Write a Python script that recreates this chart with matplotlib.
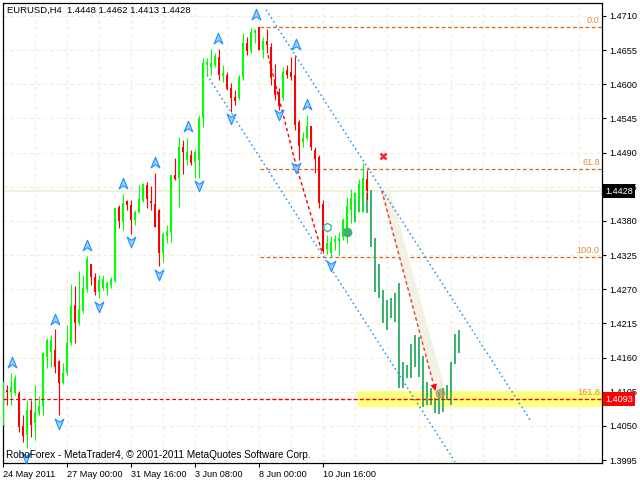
import numpy as np
import matplotlib.pyplot as plt
from matplotlib.path import Path

plt.rcParams['font.family'] = ['Liberation Sans', 'DejaVu Sans']

# EURUSD H4 bars from 24 May 2011 08:00
opens = [1.4068, 1.4108, 1.4105, 1.4103, 1.4103, 1.4050, 1.4035, 1.4076, 1.4055, 1.4071,
         1.4082, 1.4161, 1.4169, 1.4172, 1.4155, 1.4119, 1.4135, 1.4184, 1.4245, 1.4216,
         1.4235, 1.4270, 1.4311, 1.4290, 1.4266, 1.4272, 1.4272, 1.4277, 1.4283, 1.4402,
         1.4378, 1.4412, 1.4406, 1.4382, 1.4394, 1.4412, 1.4438, 1.4412, 1.4407, 1.4398,
         1.4328, 1.4356, 1.4362, 1.4454, 1.4449, 1.4499, 1.4478, 1.4486, 1.4475, 1.4478,
         1.4546, 1.4631, 1.4628, 1.4631, 1.4644, 1.4613, 1.4615, 1.4594, 1.4580, 1.4578,
         1.4612, 1.4667, 1.4654, 1.4683, 1.4692, 1.4655, 1.4670, 1.4660, 1.4607, 1.4588,
         1.4578, 1.4623, 1.4620, 1.4615, 1.4539, 1.4507, 1.4514, 1.4533, 1.4494, 1.4483,
         1.4407, 1.4335, 1.4328, 1.4346, 1.4348, 1.4354, 1.4357, 1.4398, 1.4411, 1.4414,
         1.4430, 1.4448]
highs = [1.4122, 1.4116, 1.4135, 1.4132, 1.4106, 1.4068, 1.4092, 1.4092, 1.4116, 1.4098,
         1.4169, 1.4192, 1.4196, 1.4206, 1.4156, 1.4151, 1.4213, 1.4279, 1.4275, 1.4299,
         1.4293, 1.4324, 1.4311, 1.4296, 1.4293, 1.4293, 1.4283, 1.4290, 1.4402, 1.4406,
         1.4423, 1.4414, 1.4414, 1.4398, 1.4438, 1.4441, 1.4443, 1.4436, 1.4457, 1.4399,
         1.4362, 1.4374, 1.4454, 1.4481, 1.4515, 1.4510, 1.4514, 1.4494, 1.4494, 1.4551,
         1.4642, 1.4642, 1.4657, 1.4650, 1.4657, 1.4631, 1.4620, 1.4602, 1.4591, 1.4615,
         1.4683, 1.4676, 1.4690, 1.4689, 1.4692, 1.4676, 1.4689, 1.4667, 1.4633, 1.4594,
         1.4628, 1.4631, 1.4644, 1.4647, 1.4543, 1.4523, 1.4551, 1.4533, 1.4499, 1.4486,
         1.4414, 1.4357, 1.4356, 1.4357, 1.4362, 1.4385, 1.4419, 1.4431, 1.4427, 1.4448,
         1.4473, 1.4462]
lows = [1.4052, 1.4084, 1.4084, 1.4100, 1.4040, 1.4024, 1.4014, 1.4032, 1.4027, 1.4068,
        1.4068, 1.4143, 1.4145, 1.4135, 1.4068, 1.4118, 1.4132, 1.4180, 1.4184, 1.4213,
        1.4232, 1.4266, 1.4277, 1.4261, 1.4256, 1.4269, 1.4261, 1.4272, 1.4282, 1.4369,
        1.4365, 1.4398, 1.4359, 1.4374, 1.4393, 1.4411, 1.4401, 1.4398, 1.4370, 1.4308,
        1.4314, 1.4345, 1.4346, 1.4446, 1.4402, 1.4455, 1.4470, 1.4470, 1.4449, 1.4449,
        1.4531, 1.4615, 1.4615, 1.4628, 1.4607, 1.4604, 1.4591, 1.4555, 1.4567, 1.4575,
        1.4607, 1.4647, 1.4650, 1.4667, 1.4655, 1.4642, 1.4650, 1.4599, 1.4575, 1.4559,
        1.4575, 1.4610, 1.4607, 1.4526, 1.4478, 1.4499, 1.4510, 1.4494, 1.4457, 1.4401,
        1.4328, 1.4327, 1.4322, 1.4333, 1.4325, 1.4349, 1.4345, 1.4377, 1.4378, 1.4394,
        1.4394, 1.4413]
closes = [1.4119, 1.4105, 1.4113, 1.4127, 1.4048, 1.4034, 1.4076, 1.4052, 1.4072, 1.4082,
          1.4167, 1.4188, 1.4188, 1.4145, 1.4119, 1.4135, 1.4184, 1.4243, 1.4216, 1.4238,
          1.4272, 1.4319, 1.4290, 1.4266, 1.4285, 1.4287, 1.4280, 1.4287, 1.4401, 1.4380,
          1.4409, 1.4406, 1.4382, 1.4394, 1.4415, 1.4440, 1.4415, 1.4409, 1.4370, 1.4328,
          1.4359, 1.4364, 1.4454, 1.4448, 1.4499, 1.4491, 1.4491, 1.4473, 1.4491, 1.4546,
          1.4634, 1.4636, 1.4634, 1.4646, 1.4615, 1.4618, 1.4592, 1.4578, 1.4573, 1.4612,
          1.4667, 1.4654, 1.4684, 1.4687, 1.4655, 1.4670, 1.4663, 1.4610, 1.4583, 1.4565,
          1.4620, 1.4615, 1.4612, 1.4535, 1.4501, 1.4514, 1.4533, 1.4499, 1.4480, 1.4409,
          1.4332, 1.4345, 1.4346, 1.4351, 1.4353, 1.4382, 1.4404, 1.4417, 1.4425, 1.4440,
          1.4449, 1.4428]

# forecast bars (high-low), starting at bar 88
sg_start = 88
sg_highs = [1.4411, 1.4427, 1.4430, 1.4425, 1.4430, 1.4353, 1.4311, 1.4269, 1.4253, 1.4256,
            1.4264, 1.4280, 1.4153, 1.4148, 1.4182, 1.4196, 1.4193, 1.4163, 1.4121, 1.4111,
            1.4095, 1.4105, 1.4111, 1.4116, 1.4153, 1.4198, 1.4204]
sg_lows = [1.4378, 1.4394, 1.4394, 1.4393, 1.4338, 1.4266, 1.4256, 1.4216, 1.4204, 1.4224,
           1.4217, 1.4111, 1.4111, 1.4127, 1.4127, 1.4145, 1.4129, 1.4080, 1.4084, 1.4084,
           1.4071, 1.4069, 1.4072, 1.4092, 1.4084, 1.4150, 1.4167]

# fractals
up_bars = [2.25, 13, 21, 30, 38, 46.25, 53.75, 63.25, 73.25, 76]
up_prices = [1.4151, 1.4221, 1.4340, 1.4440, 1.4473, 1.4531, 1.4673, 1.4712, 1.4663, 1.4567]
dn_bars = [5.75, 14, 24, 32, 39, 49, 57, 69, 73.25, 82]
dn_prices = [1.4000, 1.4055, 1.4243, 1.4348, 1.4295, 1.4438, 1.4546, 1.4552, 1.4467, 1.4309]

# channel and trend lines (bar, price)
chan_up_x, chan_up_y = [65.75, 131.75], [1.4720, 1.4060]
chan_lo_x, chan_lo_y = [51, 113], [1.4615, 1.3992]
trend_x, trend_y = [66.25, 73.25, 79.75], [1.4647, 1.4470, 1.4330]
fc_x, fc_y = [94.7, 108], [1.4429, 1.4108]

fib_hi, fib_lo, fib_start = 1.4692, 1.4322, 64.25
fib_levels = [0.0, 61.8, 100.0, 161.8]

tick_bars = [0, 16, 32, 48, 64, 80]
tick_labels = ['24 May 2011', '27 May 00:00', '31 May 16:00', '3 Jun 08:00', '8 Jun 00:00', '10 Jun 16:00']
yticks = [1.3995, 1.4050, 1.4105, 1.4160, 1.4215, 1.4270, 1.4325, 1.4380,
          1.4435, 1.4490, 1.4545, 1.4600, 1.4655, 1.4710]
bid, last_close = 1.4093, 1.4428
zone_lo, zone_hi, zone_start = 1.4080, 1.4106, 88.75

fig = plt.figure(figsize=(6.4, 4.8), dpi=100)
ax = fig.add_axes([2.5 / 640, 17 / 480, 599.5 / 640, 460.5 / 480])
ax.set_xlim(-0.125, 149.75)
ax.set_ylim(1.39903, 1.47317)
fs = 6.6

# grid
for b in range(8, 150, 8):
    ax.axvline(b, color='#EDEDD2', ls=(0, (3, 3)), lw=0.8, zorder=0)
for y in yticks:
    ax.axhline(y, color='#EDEDD2', ls=(0, (3, 3)), lw=0.8, zorder=0)

ax.axhline(last_close, color='#EEEED8', lw=1.2, zorder=1)
ax.fill_between([zone_start, 149.75], zone_lo, zone_hi, color='#FFFF80', lw=0, zorder=1.5)

# fibo levels
for lv in fib_levels:
    p = fib_hi - lv / 100 * (fib_hi - fib_lo)
    ax.plot([fib_start, 149.75], [p, p], color='#D2691E', ls=(0, (3, 2)), lw=0.9, zorder=1.6)
    ax.text(149.2, p + 0.0003, '%.1f' % lv, color='#E8883A', fontsize=fs, ha='right', va='bottom')

# forecast band
ax.plot([95.5, 109.5], [1.4430, 1.4103], color='#F2F2E4', lw=7, solid_capstyle='butt', zorder=2)

# candles
o, h, l, c = map(np.array, (opens, highs, lows, closes))
x = np.arange(len(o))
col = np.where(c >= o, '#00FF00', '#FF0000')
ax.vlines(x, l, h, colors=col, lw=0.8, zorder=3)
ax.bar(x, np.maximum(np.abs(c - o), 0.00012), bottom=np.minimum(o, c), width=0.72,
       color=col, lw=0, zorder=3)

sh, sl = np.array(sg_highs), np.array(sg_lows)
sx = np.arange(sg_start, sg_start + len(sh))
ax.bar(sx, sh - sl, bottom=sl, width=0.72, color='#3CB371', lw=0, zorder=2.5)

# lines
ax.plot(chan_up_x, chan_up_y, color='#1E90FF', ls=(0, (1, 2)), lw=1.1, zorder=4)
ax.plot(chan_lo_x, chan_lo_y, color='#1E90FF', ls=(0, (1, 2)), lw=1.1, zorder=4)
ax.plot(trend_x, trend_y, color='#FF0000', ls=(0, (2.5, 2)), lw=1, zorder=4)
ax.plot(fc_x, fc_y, color='#FF3030', ls=(0, (2.5, 2)), lw=1, zorder=5)
ax.annotate('', xy=(fc_x[1] + 0.3, fc_y[1] - 0.0006), xytext=(fc_x[1] - 0.3, fc_y[1] + 0.0008),
            arrowprops=dict(arrowstyle='-|>', color='#FF0000', lw=0, mutation_scale=12), zorder=6)
ax.axhline(bid, color='#FF0000', ls=(0, (3, 2)), lw=0.9, zorder=6)

ax.plot(109.3, 1.4103, 'o', color='#A89A5A', ms=6, alpha=0.7, zorder=6)
ax.plot(86, 1.4362, 'o', color='#3CB371', ms=6, zorder=5)
ax.plot(81, 1.4370, 'h', mfc='none', mec='#30B8A0', ms=6, mew=1, zorder=5)
ax.plot(95, 1.4485, 'x', color='#FF2040', ms=5, mew=1.8, zorder=5)

# fractal arrows
up_arrow = Path([(0, 1), (0.7, -0.7), (0, -0.2), (-0.7, -0.7), (0, 1)],
                [Path.MOVETO, Path.LINETO, Path.LINETO, Path.LINETO, Path.CLOSEPOLY])
dn_arrow = Path([(0, -1), (0.7, 0.7), (0, 0.2), (-0.7, 0.7), (0, -1)],
                [Path.MOVETO, Path.LINETO, Path.LINETO, Path.LINETO, Path.CLOSEPOLY])
ax.plot(up_bars, up_prices, ls='none', marker=up_arrow, ms=9, mfc='#9CCFFF', mec='#1E90FF', mew=0.8, zorder=6)
ax.plot(dn_bars, dn_prices, ls='none', marker=dn_arrow, ms=9, mfc='#9CCFFF', mec='#1E90FF', mew=0.8, zorder=6)

# axes
ax.yaxis.tick_right()
ax.set_yticks(yticks)
ax.set_yticklabels(['%.4f' % v for v in yticks])
ax.set_xticks(tick_bars)
ax.set_xticklabels(tick_labels)
for t in ax.get_xticklabels():
    t.set_ha('left')
ax.tick_params(axis='both', direction='out', length=3, width=0.8, labelsize=fs, pad=2, colors='black')
for s in ax.spines.values():
    s.set_linewidth(0.9)
    s.set_color('black')

yt = ax.get_yaxis_transform()
ax.text(1.005, last_close, '%.4f' % last_close, transform=yt, color='white', fontsize=fs, va='center',
        ha='left', bbox=dict(boxstyle='square,pad=0.25', fc='black', ec='none'), zorder=10, clip_on=False)
ax.text(1.005, bid, '%.4f' % bid, transform=yt, color='white', fontsize=fs, va='center',
        ha='left', bbox=dict(boxstyle='square,pad=0.25', fc='#FF0000', ec='none'), zorder=10, clip_on=False)

fig.text(7 / 640, 1 - 10.5 / 480, 'EURUSD,H4  1.4448 1.4462 1.4413 1.4428', fontsize=6.8, va='center')
fig.text(5.5 / 640, 1 - 454.5 / 480, 'RoboForex - MetaTrader4, \u00a9 2001-2011 MetaQuotes Software Corp.',
         fontsize=7.2, va='center')

fig.savefig('out.png', dpi=100)
